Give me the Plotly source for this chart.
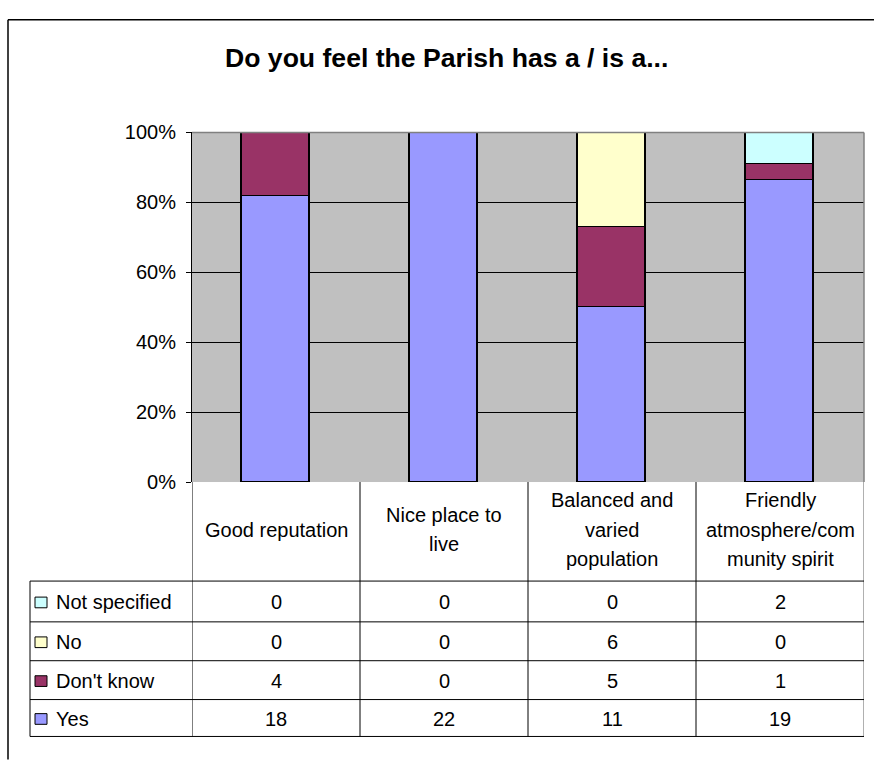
import plotly.graph_objects as go

# Survey question and answer categories
title_text = "Do you feel the Parish has a / is a..."
categories = ["Good reputation", "Nice place to<br>live", "Balanced and<br>varied<br>population",
              "Friendly<br>atmosphere/com<br>munity spirit"]

# Response counts per category
yes = [18, 22, 11, 19]
dont_know = [4, 0, 5, 1]
no = [0, 0, 6, 0]
not_specified = [0, 0, 0, 2]

series_names = ["Yes", "Don't know", "No", "Not specified"]
series_values = [yes, dont_know, no, not_specified]
series_colors = ["#9999FF", "#993366", "#FFFFCC", "#CCFFFF"]

tick_values = [0, 20, 40, 60, 80, 100]

W, H = 874, 763
FONT = "Arial, Liberation Sans, sans-serif"


def px_x(p):
    return p / W


def px_y(p):
    return 1 - p / H


# plot area and table geometry (pixels)
PL, PR, PT, PB = 192, 864, 125, 485
TABLE_LEFT = 30
HEADER_BOTTOM = 587
row_tops = [587, 629, 669, 709]
TABLE_BOTTOM = 747

fig = go.Figure()
xs = list(range(len(categories)))
for name, vals, color in zip(series_names, series_values, series_colors):
    fig.add_trace(go.Bar(
        x=xs, y=vals, name=name, width=0.405,
        marker=dict(color=color, line=dict(color="black", width=1.6)),
        hoverinfo="skip", showlegend=False,
    ))

shapes = []
annotations = []

# plot border (grey top and right)
shapes.append(dict(type="line", xref="paper", yref="paper", x0=px_x(PL), x1=px_x(PR),
                   y0=px_y(PT), y1=px_y(PT), line=dict(color="#808080", width=1.5)))
shapes.append(dict(type="line", xref="paper", yref="paper", x0=px_x(PR), x1=px_x(PR),
                   y0=px_y(PT), y1=px_y(PB), line=dict(color="#808080", width=1.5)))

# outer chart frame
shapes.append(dict(type="line", xref="paper", yref="paper", x0=px_x(8), x1=1.01,
                   y0=px_y(9), y1=px_y(9), line=dict(color="black", width=1.5)))
shapes.append(dict(type="line", xref="paper", yref="paper", x0=px_x(8), x1=px_x(8),
                   y0=px_y(9), y1=-0.01, line=dict(color="black", width=1.5)))

# data table: vertical column dividers
n = len(categories)
for i in range(n + 1):
    xb = i - 0.5
    col = "#606060" if i == n else "black"
    shapes.append(dict(type="line", xref="x", yref="paper", x0=xb, x1=xb,
                       y0=px_y(PB), y1=px_y(TABLE_BOTTOM), line=dict(color=col, width=1)))
# left edge of the series-name column
shapes.append(dict(type="line", xref="paper", yref="paper", x0=px_x(TABLE_LEFT), x1=px_x(TABLE_LEFT),
                   y0=px_y(HEADER_BOTTOM), y1=px_y(TABLE_BOTTOM), line=dict(color="black", width=1)))
# horizontal row lines
for yy in row_tops + [TABLE_BOTTOM]:
    shapes.append(dict(type="line", xref="paper", yref="paper", x0=px_x(TABLE_LEFT), x1=px_x(PR),
                       y0=px_y(yy), y1=px_y(yy), line=dict(color="black", width=1)))

# header row: category labels, one annotation per line
for i, label in enumerate(categories):
    lines = label.split("<br>")
    center = 534
    spacing = 30
    start = center - spacing * (len(lines) - 1) / 2
    for k, line in enumerate(lines):
        annotations.append(dict(x=i, y=px_y(start + k * spacing), xref="x", yref="paper",
                                text=line, showarrow=False, xanchor="center", yanchor="middle",
                                font=dict(family=FONT, size=20, color="black")))

# table rows, top to bottom: Not specified, No, Don't know, Yes
table_order = list(range(len(series_names)))[::-1]
for r, s in enumerate(table_order):
    top = row_tops[r]
    bottom = row_tops[r + 1] if r + 1 < len(row_tops) else TABLE_BOTTOM
    cy = (top + bottom) / 2 + 1
    # legend key
    shapes.append(dict(type="rect", xref="paper", yref="paper",
                       x0=px_x(35), x1=px_x(47), y0=px_y(cy - 5.5), y1=px_y(cy + 5.5),
                       fillcolor=series_colors[s], line=dict(color="black", width=1)))
    annotations.append(dict(x=px_x(54), y=px_y(cy), xref="paper", yref="paper",
                            text=series_names[s], showarrow=False, xanchor="left", yanchor="middle",
                            font=dict(family=FONT, size=20, color="black")))
    for i, v in enumerate(series_values[s]):
        annotations.append(dict(x=i, y=px_y(cy), xref="x", yref="paper",
                                text=str(v), showarrow=False, xanchor="center", yanchor="middle",
                                font=dict(family=FONT, size=20, color="black")))

# chart title
annotations.append(dict(x=px_x(446), y=px_y(48), xref="paper", yref="paper", text="<b>" + title_text + "</b>",
                        showarrow=False, xanchor="center", yanchor="middle",
                        font=dict(family=FONT, size=26.6, color="black")))

fig.update_layout(
    width=W, height=H,
    margin=dict(l=0, r=0, t=0, b=0),
    paper_bgcolor="white",
    plot_bgcolor="#C0C0C0",
    barmode="stack",
    barnorm="percent",
    bargap=0,
    shapes=shapes,
    annotations=annotations,
    xaxis=dict(domain=[px_x(PL), px_x(PR)], range=[-0.5, n - 0.5], showticklabels=False,
               showgrid=False, zeroline=False, showline=False, ticks="", fixedrange=True),
    yaxis=dict(domain=[px_y(PB), px_y(PT)], range=[0, 100], tickvals=tick_values,
               ticktext=[f"{v}%" for v in tick_values],
               showgrid=True, gridcolor="black", gridwidth=1,
               zeroline=False, showline=True, linecolor="black", linewidth=1,
               ticks="outside", ticklen=5, tickcolor="black", tickwidth=1,
               ticklabelstandoff=6,
               tickfont=dict(family=FONT, size=20, color="black"), fixedrange=True),
    font=dict(family=FONT, color="black"),
)

fig.write_html("out.html")
